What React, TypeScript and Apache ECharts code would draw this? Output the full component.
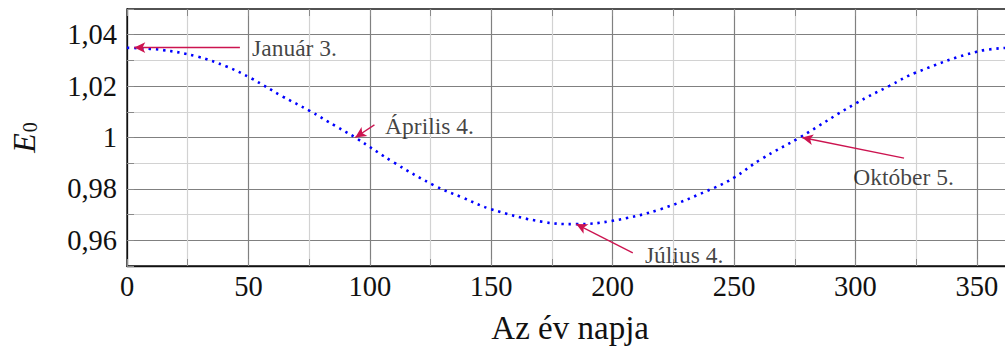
import React, { useEffect, useRef } from "react";
import * as echarts from "echarts";

// Day of the year and the eccentricity correction factor E0
const days = [0, 14, 29, 41, 51, 64, 75, 86, 94, 110, 127, 138, 150, 171, 185, 200, 220, 242, 250, 261, 277, 300, 314, 325, 350, 365];
const e0 = [1.0349, 1.0341, 1.0315, 1.0276, 1.0231, 1.016, 1.0105, 1.0044, 1.0, 0.9902, 0.9811, 0.9767, 0.9721, 0.9672, 0.9663, 0.9676, 0.9722, 0.9805, 0.9844, 0.9915, 1.0, 1.0132, 1.0201, 1.0253, 1.0334, 1.035];

// Annotated dates: target day / E0, arrow tail and label anchor in data units
const noteTexts = ["Január 3.", "Április 4.", "Július 4.", "Október 5."];
const noteDays = [3, 94, 185, 278];
const noteValues = [1.035, 1.0, 0.9663, 1.0];
const noteTails: [number, number][] = [[46.5, 1.035], [101.9, 1.0049], [208.3, 0.9551], [320, 0.992]];
const noteAnchors: [number, number][] = [[51.5, 1.035], [106.3, 1.0044], [213.3, 0.9543], [319.8, 0.9848]];
const noteAligns = ["left", "left", "left", "center"];

const xTickStep = 25;
const yTickStep = 0.01;

const SERIF = "'Liberation Serif', 'DejaVu Serif', serif";
const MAJOR = "#808080";
const MINOR = "#d2d2d2";

export default function App() {
  const ref = useRef<HTMLDivElement>(null);

  useEffect(() => {
    if (!ref.current) return;
    const chart = echarts.init(ref.current, null, { renderer: "svg" });

    const tick = {
      show: true,
      inside: true,
      length: 7,
      lineStyle: { color: "#8a8a8a", width: 1 },
    };

    const noteLabel = {
      show: true,
      position: "inside",
      formatter: "{b}",
      fontSize: 23.5,
      fontFamily: SERIF,
      color: "#111",
    };

    chart.setOption({
      animation: false,
      grid: {
        left: 127,
        top: 9,
        width: 886.3,
        height: 258,
        show: true,
        borderColor: "#1a1a1a",
        borderWidth: 1.3,
        backgroundColor: "transparent",
      },
      xAxis: [
        {
          type: "value",
          min: 0,
          max: 365,
          interval: xTickStep,
          axisLine: { show: true, onZero: false, lineStyle: { color: "#111", width: 1.3 } },
          axisTick: tick,
          axisLabel: {
            margin: 6,
            fontSize: 28.5,
            fontFamily: SERIF,
            color: "#111",
            formatter: (v: number) => (v % 50 === 0 ? String(v) : ""),
          },
          splitLine: {
            show: true,
            showMinLine: false,
            showMaxLine: false,
            lineStyle: { color: [MINOR, MAJOR], width: 1.2 },
          },
          name: "Az év napja",
          nameLocation: "middle",
          nameGap: 45,
          nameTextStyle: { fontSize: 33, fontFamily: SERIF, color: "#111" },
        },
        {
          type: "value",
          position: "top",
          min: 0,
          max: 365,
          interval: xTickStep,
          axisLine: { show: false },
          axisTick: tick,
          axisLabel: { show: false },
          splitLine: { show: false },
        },
      ],
      yAxis: {
        type: "value",
        min: 0.95,
        max: 1.05,
        interval: yTickStep,
        axisLine: { show: true, onZero: false, lineStyle: { color: "#111", width: 1.3 } },
        axisTick: tick,
        axisLabel: {
          margin: 10,
          fontSize: 28.5,
          fontFamily: SERIF,
          color: "#111",
          formatter: (v: number) => {
            const h = Math.round(v * 100);
            if (h % 2 !== 0) return "";
            return h === 100 ? "1" : (h / 100).toFixed(2).replace(".", ",");
          },
        },
        splitLine: {
          show: true,
          showMinLine: false,
          showMaxLine: false,
          lineStyle: { color: [MAJOR, MINOR], width: 1.2 },
        },
        name: "{e|E}{s|0}",
        nameLocation: "middle",
        nameRotate: 90,
        nameGap: 87,
        nameTextStyle: {
          rich: {
            e: { fontSize: 32, fontStyle: "italic", fontFamily: SERIF, color: "#111", verticalAlign: "bottom" },
            s: { fontSize: 20, fontFamily: SERIF, color: "#111", verticalAlign: "bottom", padding: [0, 0, 0, 1] },
          },
        },
      },
      series: [
        {
          type: "line",
          data: days.map((d, i) => [d, e0[i]]),
          smooth: 0.4,
          showSymbol: false,
          symbol: "none",
          lineStyle: { color: "#0000ff", width: 2.6, type: [2.4, 4.8], cap: "butt" },
          z: 3,
          markLine: {
            silent: true,
            symbol: ["none", "arrow"],
            symbolSize: [8, 11],
            label: { show: false },
            lineStyle: { color: "#cc1450", width: 1.3, type: "solid" },
            data: noteDays.map((d, i) => [
              { coord: noteTails[i] },
              { coord: [d, noteValues[i]] },
            ]),
          },
        },
        {
          type: "scatter",
          symbolSize: 0,
          silent: true,
          z: 4,
          data: noteTexts.map((t, i) => ({
            name: t,
            value: noteAnchors[i],
            label: { ...noteLabel, align: noteAligns[i] },
          })),
          label: noteLabel,
        },
      ],
    });

    return () => chart.dispose();
  }, []);

  return (
    <div style={{ position: "fixed", left: 0, top: 0, width: 1005, height: 349, overflow: "hidden", background: "#fff" }}>
      <div ref={ref} style={{ width: 1030, height: 349 }} />
    </div>
  );
}
